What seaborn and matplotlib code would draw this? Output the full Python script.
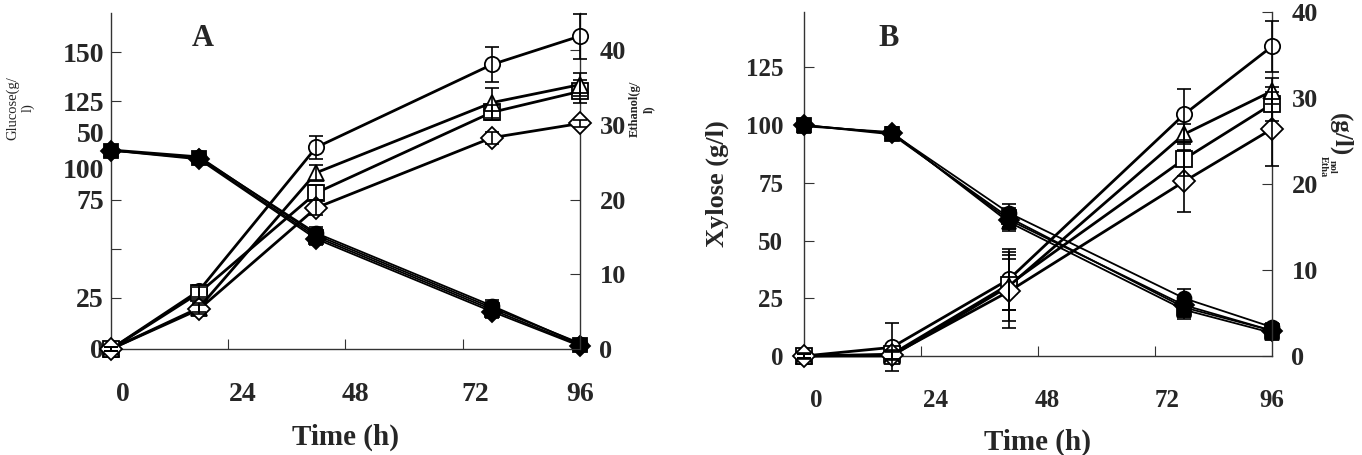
"""Glucose / xylose fermentation time courses (panels A and B)"""

import matplotlib
matplotlib.use("Agg")
import matplotlib.pyplot as plt
import pandas as pd
import seaborn as sns

# ---- data ----
time_h = [0, 18, 42, 78, 96]
series = ["S1", "S2", "S3", "S4"]
marker_map = {"S1": "o", "S2": "s", "S3": "^", "S4": "D"}

# panel A: glucose (left axis, g/l) and ethanol (right axis, g/l)
glucose_a = {
    "S1": [100, 96.5, 58, 21, 1.5],
    "S2": [100, 96, 56, 19, 1.0],
    "S3": [100.5, 97, 57, 20, 2.0],
    "S4": [100, 95.5, 55, 18, 0.5],
}
glucose_a_err = [0.5, 1.0, 3.0, 3.0, 1.5]
ethanol_a = {
    "S1": [0, 7.8, 27.0, 38.1, 41.9],
    "S2": [0, 7.5, 20.9, 31.7, 34.5],
    "S3": [0, 5.5, 23.6, 33.0, 35.4],
    "S4": [0, 5.3, 18.9, 28.3, 30.2],
}
ethanol_a_err = {
    "S1": [0.3, 0.8, 1.5, 2.3, 3.0],
    "S2": [0.3, 0.8, 1.0, 1.0, 1.5],
    "S3": [0.3, 0.6, 1.0, 2.0, 1.5],
    "S4": [0.3, 0.6, 1.0, 0.8, 0.5],
}

# panel B: xylose (left axis) and ethanol (right axis)
xylose_b = {
    "S1": [100, 96.5, 62, 25, 12.5],
    "S2": [100, 96, 60, 21, 11],
    "S3": [99.5, 97, 58, 20, 10],
    "S4": [100, 96.5, 59, 22, 11],
}
xylose_b_err = [1.0, 2.0, 4.0, 4.0, 2.0]
ethanol_b = {
    "S1": [0, 1.0, 8.9, 28.1, 36.0],
    "S2": [0, 0.2, 8.3, 22.9, 29.3],
    "S3": [0, 0.0, 8.1, 25.8, 30.8],
    "S4": [0, 0.1, 7.5, 20.3, 26.4],
}
ethanol_b_err = {
    "S1": [0.3, 2.8, 3.5, 3.0, 3.0],
    "S2": [0.2, 0.5, 3.0, 2.0, 2.0],
    "S3": [0.2, 0.5, 4.0, 1.2, 1.5],
    "S4": [0.2, 0.5, 4.2, 3.6, 4.3],
}

# tick labels (positions as printed in the original, slightly shifted)
x_tick_marks = [24, 48, 72]
x_label_pos = [2.5, 27, 50, 74.5, 96]
x_label_txt = ["0", "24", "48", "72", "96"]
a_left_marks = [25, 50, 75, 100, 125, 150]
a_left_label_pos = [-1, 25, 75, 91, 109, 125, 150]
a_left_label_txt = ["0", "25", "75", "100", "50", "125", "150"]
right_ticks = [0, 10, 20, 30, 40]
b_left_ticks = [0, 25, 50, 75, 100, 125]


def long_frame(values):
    rows = []
    for name, vals in values.items():
        for t, v in zip(time_h, vals):
            rows.append({"time": t, "value": v, "series": name})
    return pd.DataFrame(rows)


def draw_series(ax, values, errs, filled, ms):
    df = long_frame(values)
    face = "black" if filled else "white"
    sns.lineplot(data=df, x="time", y="value", style="series",
                 markers=marker_map, dashes=False, color="black",
                 markerfacecolor=face, markeredgecolor="black",
                 markeredgewidth=1.3, markersize=ms,
                 lw=2.0 if not filled else 1.3,
                 legend=False, ax=ax, clip_on=False, zorder=3)
    for name, vals in values.items():
        e = errs[name] if isinstance(errs, dict) else errs
        ax.errorbar(time_h, vals, yerr=e, fmt="none", ecolor="black",
                    elinewidth=1.2, capsize=5, capthick=1.2,
                    clip_on=False, zorder=4)


sns.set_style("ticks")
plt.rcParams["font.family"] = ["Liberation Serif", "DejaVu Serif"]
plt.rcParams["font.weight"] = "bold"
plt.rcParams["axes.linewidth"] = 1.0
plt.rcParams["axes.edgecolor"] = "#333333"

fig = plt.figure(figsize=(13.62, 4.55), dpi=100)
axA = fig.add_axes([0.0815, 0.2330, 0.3443, 0.7385])
axB = fig.add_axes([0.5903, 0.2176, 0.3436, 0.7560])
axA2 = axA.twinx()
axB2 = axB.twinx()

draw_series(axA, glucose_a, glucose_a_err, True, 10)
draw_series(axA2, ethanol_a, ethanol_a_err, False, 11)
draw_series(axB, xylose_b, xylose_b_err, True, 10)
draw_series(axB2, ethanol_b, ethanol_b_err, False, 11)

axA.set_ylim(0, 170)
axA2.set_ylim(0, 45)
axB.set_ylim(0, 149)
axB2.set_ylim(0, 40)

for ax, fs in [(axA, 20), (axB, 18)]:
    ax.xaxis.remove_overlapping_locs = False
    ax.set_xlim(0, 96)
    ax.set_xticks(x_tick_marks)
    ax.set_xticks(x_label_pos, labels=x_label_txt, minor=True)
    ax.tick_params(axis="x", which="major", direction="in", length=7,
                   labelbottom=False, color="#333333")
    ax.tick_params(axis="x", which="minor", length=0, pad=24, labelsize=fs)
    ax.set_ylabel("")
    ax.set_xlabel("Time (h)", fontsize=21, fontweight="bold", labelpad=12)
    ax.spines["top"].set_visible(False)
    ax.spines["right"].set_visible(False)

for ax2 in (axA2, axB2):
    ax2.set_ylabel("")
    ax2.set_yticks(right_ticks)
    ax2.tick_params(axis="y", direction="in", length=7, pad=14,
                    labelsize=19, color="#333333")
    for side in ("top", "left", "bottom"):
        ax2.spines[side].set_visible(False)

# panel A left axis: tick marks and labels as printed
axA.yaxis.remove_overlapping_locs = False
axA.set_yticks(a_left_marks)
axA.set_yticks(a_left_label_pos, labels=a_left_label_txt, minor=True)
axA.tick_params(axis="y", which="major", direction="in", length=7,
                labelleft=False, color="#333333")
axA.tick_params(axis="y", which="minor", length=0, pad=5, labelsize=20)

# panel B left axis
axB.set_yticks(b_left_ticks)
axB.tick_params(axis="y", direction="in", length=7, pad=15,
                labelsize=18, color="#333333")
axB.set_ylabel("Xylose (g/l)", fontsize=19, fontweight="bold", labelpad=12)

axA.text(0.196, 0.925, "A", transform=axA.transAxes, fontsize=22,
         fontweight="bold", ha="center", va="center")
axB.text(0.18, 0.924, "B", transform=axB.transAxes, fontsize=22,
         fontweight="bold", ha="center", va="center")

# axis captions that were printed small / broken in the original
fig.text(20 / 1362, 1 - 108 / 455, "Glucose(g/\nl)", rotation=90,
         fontsize=10.5, fontweight="normal", ha="center", va="center")
fig.text(642 / 1362, 1 - 109 / 455, "Ethanol(g/\nl)", rotation=90,
         fontsize=9, fontweight="bold", ha="center", va="center")
fig.text(1341 / 1362, 1 - 135 / 455, "(g/l)", rotation=270,
         fontsize=18, fontweight="bold", ha="center", va="center")
fig.text(1323 / 1362, 1 - 167 / 455, "Etha", rotation=270,
         fontsize=7.5, fontweight="bold", ha="center", va="center")
fig.text(1332 / 1362, 1 - 167 / 455, "nol", rotation=270,
         fontsize=7.5, fontweight="bold", ha="center", va="center")

fig.savefig("out.png", dpi=100)
